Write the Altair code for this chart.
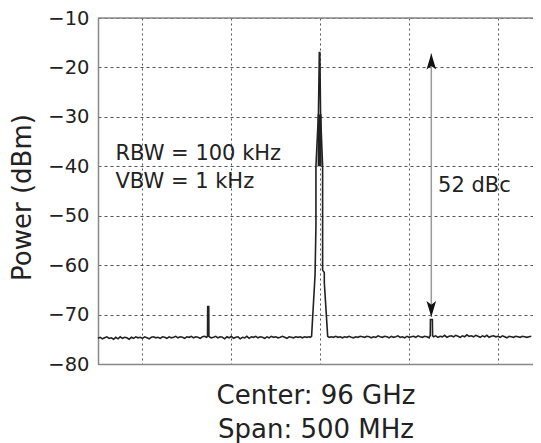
import altair as alt
import pandas as pd

# ---- data ----
# noise floor sweep: start / step (MHz offset from 96 GHz centre) and measured levels (dBm)
noise_start = -125.0
noise_step = 1.25
noise_dbm = [
    -74.8, -74.6, -74.9, -74.7, -74.5, -74.8, -74.7, -75.0, -74.6, -74.9,
    -74.5, -74.8, -74.6, -74.7, -75.0, -74.6, -74.8, -74.5, -74.7, -74.6,
    -74.8, -74.5, -74.7, -74.9, -74.6, -74.5, -74.7, -74.6, -74.8, -74.5,
    -74.6, -74.8, -74.5, -74.7, -74.6, -74.4, -74.7, -74.5, -74.6, -74.8,
    -74.5, -74.6, -74.4, -74.7, -74.5, -74.6, -74.8, -74.5, -74.4, -74.6,
    -74.5, -74.7, -74.6, -74.4, -74.7, -74.5, -74.6, -74.9, -74.5, -74.7,
    -74.4, -74.8, -74.6, -74.5, -74.9, -74.6, -74.7, -74.4, -74.8, -74.5,
    -74.6, -74.4, -74.7, -74.5, -74.6, -74.8, -74.5, -74.7, -74.4, -74.6,
    -74.5, -74.7, -74.6, -74.4, -74.6, -74.8, -74.5, -74.6, -74.7, -74.5,
    -74.6, -74.5, -74.7, -74.5, -74.6, -74.5, -74.6, -74.5, -74.6, -74.5,
    -74.5, -74.6, -74.5, -74.6, -74.7, -74.5, -74.6, -74.4, -74.6, -74.5,
    -74.7, -74.5, -74.6, -74.4, -74.6, -74.7, -74.5, -74.6, -74.4, -74.5,
    -74.6, -74.4, -74.5, -74.7, -74.5, -74.6, -74.3, -74.5, -74.6, -74.4,
    -74.5, -74.7, -74.4, -74.6, -74.5, -74.3, -74.6, -74.5, -74.7, -74.4,
    -74.6, -74.5, -74.4, -74.6, -74.3, -74.5, -74.6, -74.4, -74.5, -74.7,
    -74.4, -74.5, -74.3, -74.6, -74.4, -74.5, -74.2, -74.6, -74.4, -74.3,
    -74.5, -74.2, -74.4, -74.6, -74.3, -74.5, -74.1, -74.4, -74.3, -74.5,
    -74.2, -74.4, -74.6, -74.3, -74.5, -74.2, -74.6, -74.4, -74.3, -74.5,
    -74.4, -74.6, -74.3, -74.5, -74.7, -74.4, -74.5, -74.6, -74.4, -74.5,
    -74.6, -74.4, -74.5, -74.6, -74.5, -74.4, -74.6,
]

# left spur
spur1_mhz = [-64.0, -63.4, -63.3, -62.7, -62.6, -62.0]
spur1_dbm = [-74.6, -74.4, -68.4, -68.4, -74.4, -74.6]
# main carrier (outline of the trace)
peak_mhz = [-5.6, -4.85, -2.9, -2.4, -2.4, -1.0, -0.5, -0.2, 0.2, 1.35, 1.35, 2.3, 2.3, 4.2, 5.0]
peak_dbm = [-74.6, -74.4, -62.0, -52.0, -40.0, -29.5, -17.0, -17.0, -29.5, -40.0, -61.0, -61.5, -63.5, -74.4, -74.6]
# dense core of the carrier between -30 and -40 dBm
core_mhz = [-0.35]
core_top_dbm = [-29.5]
core_bottom_dbm = [-40.0]
# right spur
spur2_mhz = [61.5, 61.9, 62.0, 63.1, 63.2, 63.6]
spur2_dbm = [-74.4, -74.3, -71.0, -71.0, -74.3, -74.4]

# annotations
arrow_mhz = 62.5
arrow_top_dbm = -17.2
arrow_bottom_dbm = -70.5
rbw_text = ["RBW = 100 kHz", "VBW = 1 kHz"]
rbw_mhz = [-115.2, -115.2]
rbw_dbm = [-38.8, -44.35]
dbc_text = ["52 dBc"]
dbc_mhz = [66.3]
dbc_dbm = [-45.3]

y_ticks = [-80, -70, -60, -50, -40, -30, -20, -10]
x_grid = [-100, -50, 0, 50, 100]
x_title = ["Center: 96 GHz", "Span: 500 MHz"]
y_title = "Power (dBm)"
x_range = [-125, 119.7]
y_range = [-80, -10]

# ---- build trace ----
features = [(spur1_mhz, spur1_dbm), (peak_mhz, peak_dbm), (spur2_mhz, spur2_dbm)]
pts = []
for i, v in enumerate(noise_dbm):
    f = noise_start + i * noise_step
    if f > x_range[1]:
        continue
    if any(min(fm) <= f <= max(fm) for fm, _ in features):
        continue
    pts.append((f, v))
for fm, pm in features:
    pts.extend(zip(fm, pm))
trace = pd.DataFrame(pts, columns=["f", "p"])
trace["k"] = range(len(trace))
trace = trace.sort_values(["f", "k"]).reset_index(drop=True)
trace["idx"] = range(len(trace))

FONT = "DejaVu Sans"
xs = alt.Scale(domain=x_range, nice=False, zero=False)
ys = alt.Scale(domain=y_range, nice=False, zero=False)

line = alt.Chart(trace).mark_line(color="#222222", strokeWidth=1.6).encode(
    x=alt.X("f:Q", scale=xs, axis=alt.Axis(
        values=x_grid, labels=False, ticks=False, grid=True,
        gridDash=[2, 3], gridColor="#555555", gridWidth=1,
        domain=True, domainColor="#888888", domainWidth=1.5,
        title=x_title, titleFont=FONT, titleFontSize=26, titleFontWeight="normal",
        titleColor="#222222", titleLineHeight=34, titlePadding=18)),
    y=alt.Y("p:Q", scale=ys, axis=alt.Axis(
        values=y_ticks, format="d", ticks=False, grid=True,
        gridDash=[3, 3], gridColor="#555555", gridWidth=1,
        domain=True, domainColor="#888888", domainWidth=1.5,
        labelFont=FONT, labelFontSize=19.5, labelColor="#222222", labelPadding=9,
        title=y_title, titleFont=FONT, titleFontSize=26, titleFontWeight="normal",
        titleColor="#222222", titlePadding=12, titleY=179)),
    order="idx:Q",
)

core = alt.Chart(pd.DataFrame({"x": core_mhz, "y": core_top_dbm, "y2": core_bottom_dbm})).mark_rule(
    color="#222222", strokeWidth=4).encode(
    x=alt.X("x:Q", scale=xs), y=alt.Y("y:Q", scale=ys), y2="y2:Q")

top_border = alt.Chart(pd.DataFrame({"y": [y_range[1]]})).mark_rule(
    color="#888888", strokeWidth=1.5).encode(y=alt.Y("y:Q", scale=ys))

arrow_df = pd.DataFrame({"x": [arrow_mhz], "y": [arrow_top_dbm], "y2": [arrow_bottom_dbm]})
shaft = alt.Chart(arrow_df).mark_rule(color="#999999", strokeWidth=1.5).encode(
    x=alt.X("x:Q", scale=xs), y=alt.Y("y:Q", scale=ys), y2="y2:Q")

up_path = "M0,-1 L0.6,1 L0,0.55 L-0.6,1 Z"
down_path = "M0,1 L0.6,-1 L0,-0.55 L-0.6,-1 Z"
head_up = alt.Chart(pd.DataFrame({"x": [arrow_mhz], "y": [arrow_top_dbm]})).mark_point(
    shape=up_path, filled=True, color="#111111", size=256, opacity=1, yOffset=8).encode(
    x=alt.X("x:Q", scale=xs), y=alt.Y("y:Q", scale=ys))
head_down = alt.Chart(pd.DataFrame({"x": [arrow_mhz], "y": [arrow_bottom_dbm]})).mark_point(
    shape=down_path, filled=True, color="#111111", size=256, opacity=1, yOffset=-8).encode(
    x=alt.X("x:Q", scale=xs), y=alt.Y("y:Q", scale=ys))

txt_df = pd.DataFrame({"x": rbw_mhz + dbc_mhz, "y": rbw_dbm + dbc_dbm, "t": rbw_text + dbc_text})
texts = alt.Chart(txt_df).mark_text(
    align="left", baseline="alphabetic", font=FONT, fontSize=21, color="#222222").encode(
    x=alt.X("x:Q", scale=xs), y=alt.Y("y:Q", scale=ys), text="t:N")

chart = alt.layer(line, core, top_border, shaft, head_up, head_down, texts).properties(
    width=435, height=346,
    autosize=alt.AutoSizeParams(type="none"),
    padding={"left": 90, "top": 10, "right": 0, "bottom": 79},
).configure_view(stroke=None).configure(background="white")

chart.save("out.html", embed_options={"renderer": "svg", "actions": False})
